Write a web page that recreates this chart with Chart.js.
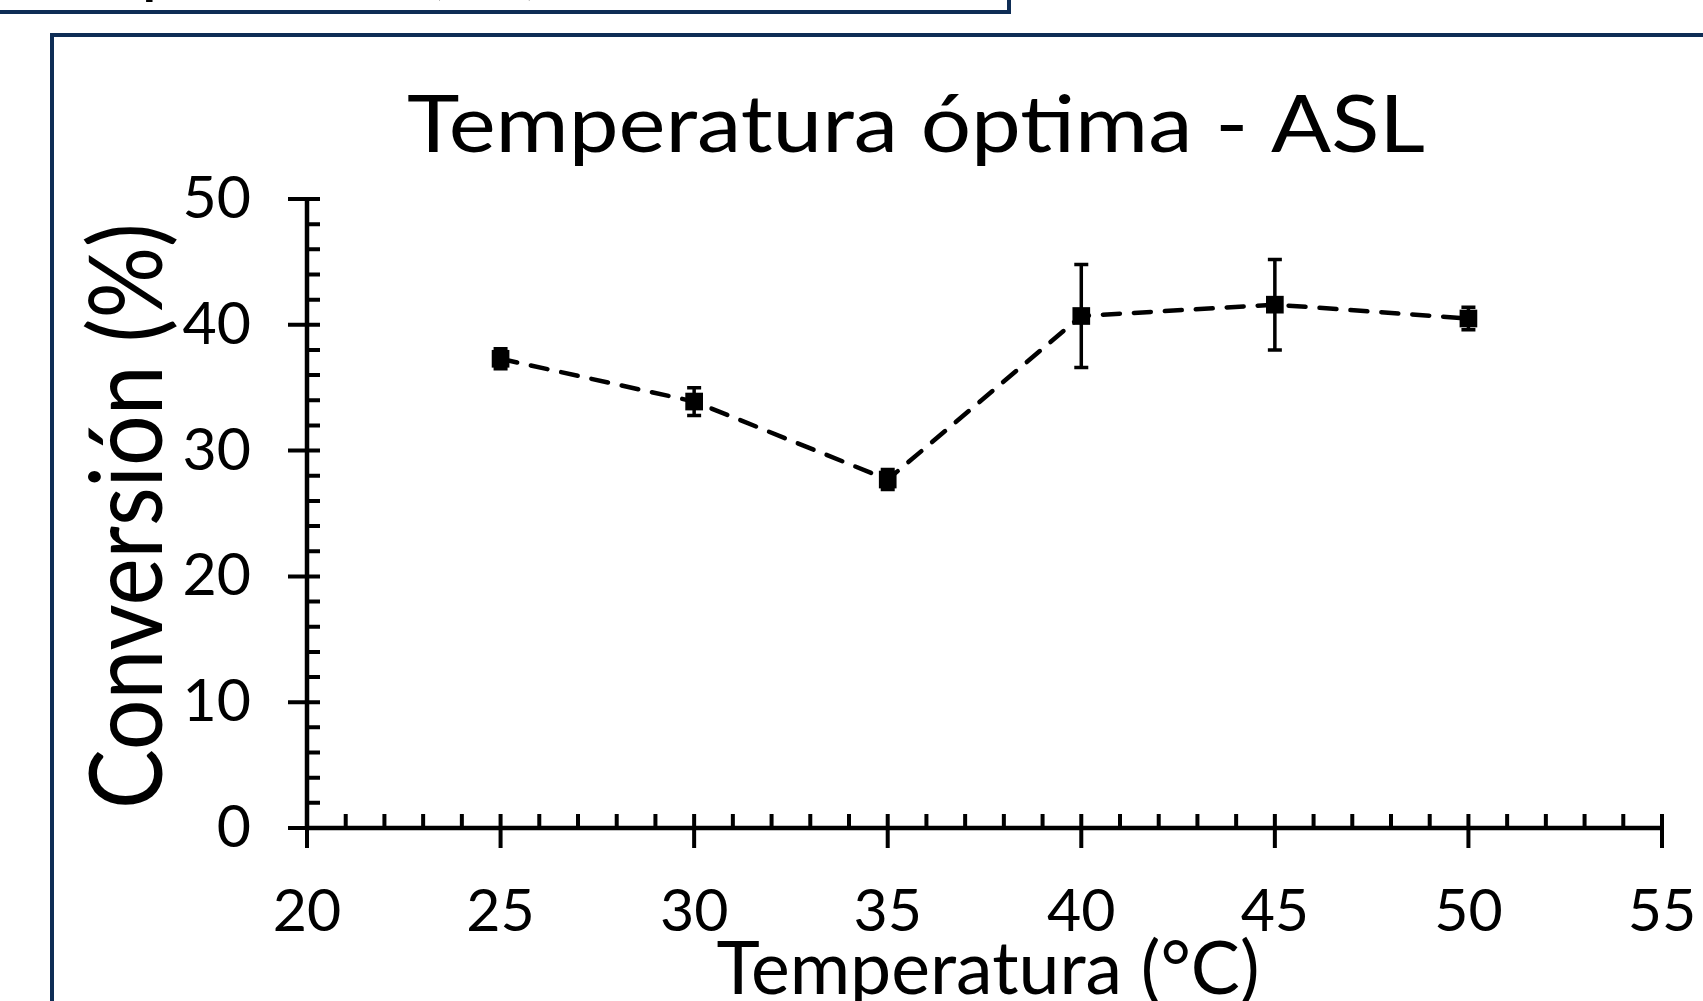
<!DOCTYPE html>
<html>
<head>
<meta charset="utf-8">
<script src="https://cdn.jsdelivr.net/npm/chart.js@4/dist/chart.umd.min.js"></script>
<style>
  html, body { margin: 0; padding: 0; background: #fff; overflow: hidden; }
  body { width: 1703px; height: 1001px; position: relative; font-family: Lato, sans-serif; }
  .topbox {
    position: absolute; left: -6px; top: -120px; width: 1017px; height: 134px;
    border: 4px solid #0e2d55; overflow: hidden; box-sizing: border-box;
  }
  .topbox span {
    position: absolute; left: 12px; bottom: 12px; font-size: 72px; line-height: 72px; color: #000;
    white-space: nowrap;
  }
  .frame {
    position: absolute; left: 50px; top: 33px; width: 1700px; height: 1000px;
    border: 4px solid #0e2d55; box-sizing: border-box;
  }
  #chart { position: absolute; left: 0; top: 0; }
</style>
</head>
<body>
<div class="topbox"><span>Temperatura (°C)</span></div>
<div class="frame"></div>
<canvas id="chart" width="1703" height="1001"></canvas>
<script>
// datos
const temps = [25, 30, 35, 40, 45, 50];
const conversion = [37.3, 33.9, 27.7, 40.7, 41.6, 40.5];
const errores = [0.8, 1.1, 0.8, 4.1, 3.6, 0.9];
const xTicks = [20, 25, 30, 35, 40, 45, 50, 55];
const yTicks = [0, 10, 20, 30, 40, 50];

const titulo = 'Temperatura óptima - ASL';
const tituloX = 'Temperatura (°C)';
const tituloY = 'Conversión (%)';

// texto ajustado a un ancho dado (la fuente original es más estrecha)
function fitText(ctx, text, x, y, size, width, align) {
  ctx.save();
  ctx.font = size + 'px Lato';
  const w = ctx.measureText(text).width;
  const sx = width / w;
  ctx.translate(x, y);
  ctx.scale(sx, 1);
  ctx.textAlign = align || 'center';
  ctx.fillText(text, 0, 0);
  ctx.restore();
}

const decor = {
  id: 'decor',
  beforeDatasetsDraw(chart) {
    const ctx = chart.ctx;
    const xs = chart.scales.x, ys = chart.scales.y;
    ctx.save();
    ctx.strokeStyle = '#000';
    ctx.lineCap = 'butt';

    // barras de error
    ctx.lineWidth = 3.5;
    temps.forEach((t, i) => {
      const px = xs.getPixelForValue(t);
      const top = ys.getPixelForValue(conversion[i] + errores[i]);
      const bot = ys.getPixelForValue(conversion[i] - errores[i]);
      ctx.beginPath();
      ctx.moveTo(px, top); ctx.lineTo(px, bot);
      ctx.moveTo(px - 7, top); ctx.lineTo(px + 7, top);
      ctx.moveTo(px - 7, bot); ctx.lineTo(px + 7, bot);
      ctx.stroke();
    });

    // ejes
    const x0 = xs.left, y0 = ys.bottom;
    ctx.lineWidth = 4.5;
    ctx.beginPath();
    ctx.moveTo(x0, ys.top); ctx.lineTo(x0, y0);
    ctx.moveTo(x0, y0); ctx.lineTo(xs.right, y0);
    ctx.stroke();

    ctx.lineWidth = 4;
    ctx.beginPath();
    for (let v = 0; v <= 50; v += 2) {
      const py = ys.getPixelForValue(v);
      ctx.moveTo(v % 10 === 0 ? x0 - 19 : x0, py);
      ctx.lineTo(x0 + 13, py);
    }
    for (let v = 20; v <= 55; v += 1) {
      const px = xs.getPixelForValue(v);
      ctx.moveTo(px, v % 5 === 0 ? y0 + 20 : y0);
      ctx.lineTo(px, y0 - 14);
    }
    ctx.stroke();
    ctx.restore();
  },
  afterDraw(chart) {
    const ctx = chart.ctx;
    const xs = chart.scales.x, ys = chart.scales.y;
    ctx.save();
    ctx.fillStyle = '#000';
    ctx.textBaseline = 'middle';
    ctx.font = '59px Lato';

    ctx.textAlign = 'center';
    xTicks.forEach(v => ctx.fillText(String(v), xs.getPixelForValue(v), 912));
    ctx.textAlign = 'right';
    yTicks.forEach(v => ctx.fillText(String(v), 251, ys.getPixelForValue(v)));

    ctx.textBaseline = 'alphabetic';
    fitText(ctx, titulo, 916, 152, 80, 1018);
    fitText(ctx, tituloX, 988, 994, 74, 543);

    ctx.save();
    ctx.translate(162, 516);
    ctx.rotate(-Math.PI / 2);
    fitText(ctx, tituloY, 0, 0, 100, 586);
    ctx.restore();
    ctx.restore();
  }
};

new Chart(document.getElementById('chart').getContext('2d'), {
  type: 'line',
  data: {
    datasets: [{
      data: temps.map((t, i) => ({ x: t, y: conversion[i] })),
      borderColor: '#000',
      borderWidth: 4.5,
      borderDash: [17, 14],
      borderCapStyle: 'round',
      pointStyle: 'rect',
      pointRadius: 12.5,
      pointBackgroundColor: '#000',
      pointBorderWidth: 0,
      tension: 0
    }]
  },
  options: {
    responsive: false,
    devicePixelRatio: 1,
    animation: false,
    layout: { padding: { left: 307, right: 41, top: 199, bottom: 173 } },
    plugins: { legend: { display: false }, tooltip: { enabled: false } },
    scales: {
      x: { type: 'linear', min: 20, max: 55, display: false },
      y: { min: 0, max: 50, display: false }
    }
  },
  plugins: [decor]
});
</script>
</body>
</html>
